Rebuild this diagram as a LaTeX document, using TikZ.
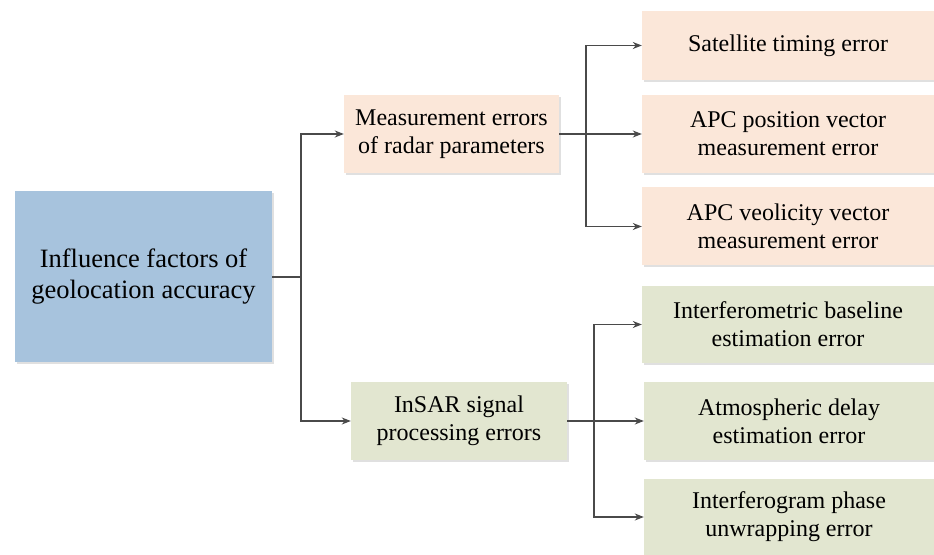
\documentclass[tikz,border=0pt]{standalone}
\usepackage{fontspec}
\setmainfont{Liberation Serif}
\usepackage{tikz}
\usetikzlibrary{positioning, shadows, arrows.meta}

\definecolor{rootblue}{HTML}{A7C3DD}
\definecolor{radarbeige}{HTML}{FBE7D9}
\definecolor{sargreen}{HTML}{E2E6D0}
\definecolor{linegray}{HTML}{4A4A4A}

\begin{document}
\begin{tikzpicture}[x=1pt, y=1pt,
    box/.style={inner sep=0pt, align=center, font=\fontsize{24}{28}\selectfont,
      drop shadow={shadow xshift=1.8pt, shadow yshift=-1.8pt, fill=black!12, opacity=1}},
    conn/.style={draw=linegray, line width=1.3pt},
    arr/.style={conn, -{Stealth[length=9pt, width=7pt]}}]
      \useasboundingbox (0,0) rectangle (934,554);

      \node[box, fill=rootblue, minimum width=257pt, minimum height=171pt,
        font=\fontsize{26.5}{31}\selectfont] (root) at (143.5,277)
        {Influence factors of\\geolocation accuracy};

      \node[box, fill=radarbeige, minimum width=215pt, minimum height=78pt] (radar) at (451.5,420)
        {Measurement errors\\of radar parameters};
      \node[box, fill=sargreen, minimum width=216pt, minimum height=78pt] (insar) at (459,133)
        {InSAR signal\\processing errors};

      \node[box, fill=radarbeige, minimum width=292pt, minimum height=69pt] (timing) at (788,508.5)
        {Satellite timing error};
      \node[box, fill=radarbeige, minimum width=292pt, minimum height=78pt] (apcpos) at (788,420)
        {APC position vector\\measurement error};
      \node[box, fill=radarbeige, minimum width=292pt, minimum height=78pt] (apcvel) at (788,327.5)
        {APC veolicity vector\\measurement error};

      \node[box, fill=sargreen, minimum width=292pt, minimum height=77pt] (baseline) at (788,229.5)
        {Interferometric baseline\\estimation error};
      \node[box, fill=sargreen, minimum width=290pt, minimum height=78pt] (atmos) at (789,133)
        {Atmospheric delay\\estimation error};
      \node[box, fill=sargreen, minimum width=290pt, minimum height=76pt] (unwrap) at (789,37)
        {Interferogram phase\\unwrapping error};

      \coordinate (j1) at (301,277);
      \coordinate (j2) at (586,420);
      \coordinate (j3) at (594,133);

      \draw[conn] (root.east) -- (j1);
      \draw[arr] (j1) |- (radar.west);
      \draw[arr] (j1) |- (insar.west);

      \draw[conn] (radar.east) -- (j2);
      \draw[arr] (j2) |- (timing.west);
      \draw[arr] (j2) -- (apcpos.west);
      \draw[arr] (j2) |- (apcvel.west);

      \draw[conn] (insar.east) -- (j3);
      \draw[arr] (j3) |- (baseline.west);
      \draw[arr] (j3) -- (atmos.west);
      \draw[arr] (j3) |- (unwrap.west);
    \end{tikzpicture}
\end{document}
